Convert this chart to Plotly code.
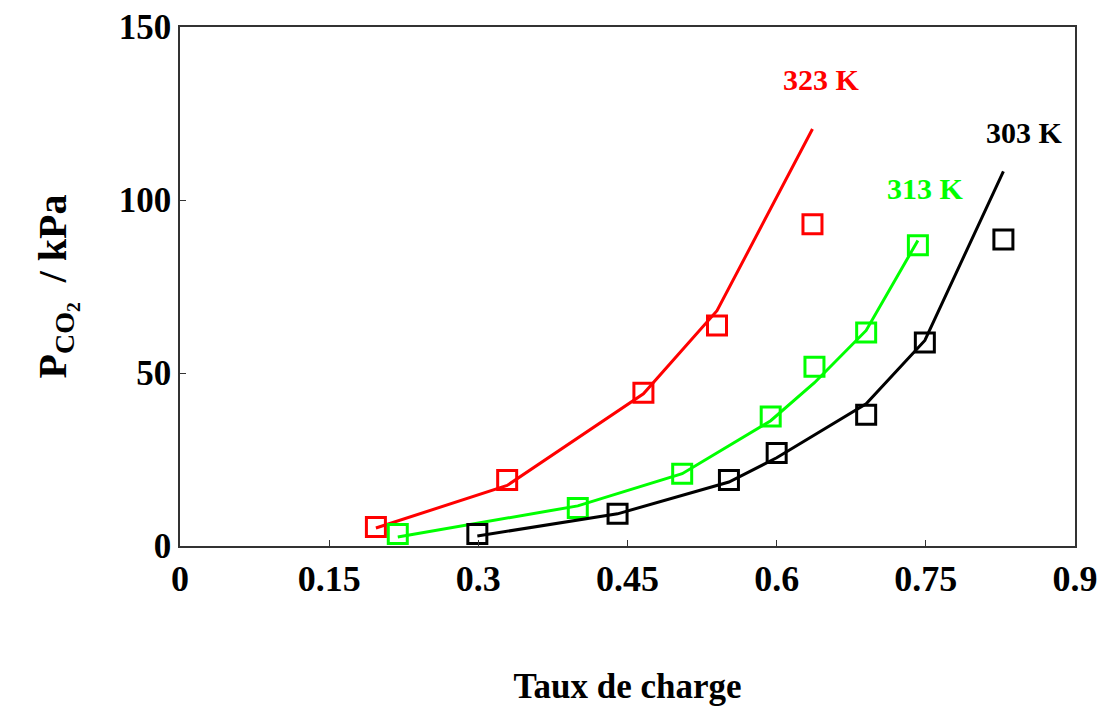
import plotly.graph_objects as go

# ---- data ----
loading_323 = [0.197, 0.329, 0.466, 0.540, 0.636]
p_exp_323 = [5.5, 19.1, 44.3, 63.7, 93.0]
p_model_323 = [5.2, 17.5, 44.0, 68.0, 120.5]

loading_313 = [0.219, 0.400, 0.505, 0.594, 0.638, 0.690, 0.742]
p_exp_313 = [3.5, 11.0, 20.9, 37.4, 51.8, 61.7, 86.9]
p_model_313 = [2.6, 11.6, 20.9, 36.2, 47.2, 62.3, 88.3]

loading_303 = [0.299, 0.440, 0.552, 0.600, 0.690, 0.749, 0.828]
p_exp_303 = [3.5, 9.3, 19.1, 26.9, 37.9, 58.8, 88.6]
p_model_303 = [2.9, 9.3, 18.5, 25.5, 41.1, 59.4, 108.3]

x_ticks = [0, 0.15, 0.3, 0.45, 0.6, 0.75, 0.9]
x_tick_labels = ["0", "0.15", "0.3", "0.45", "0.6", "0.75", "0.9"]
y_ticks = [0, 50, 100, 150]
y_tick_labels = ["0", "50", "100", "150"]

series_labels = ["323 K", "313 K", "303 K"]
series_colors = ["#ff0000", "#00ff00", "#000000"]
label_x = [0.645, 0.750, 0.849]
label_y = [134.7, 103.4, 119.6]

FONT = "Liberation Serif"

fig = go.Figure()
series = [
    (loading_323, p_exp_323, p_model_323),
    (loading_313, p_exp_313, p_model_313),
    (loading_303, p_exp_303, p_model_303),
]
for (lx, pe, pm), name, col in zip(series, series_labels, series_colors):
    fig.add_trace(go.Scatter(
        x=lx, y=pm, mode="lines", name=name + " model",
        line=dict(color=col, width=3), showlegend=False,
    ))
    fig.add_trace(go.Scatter(
        x=lx, y=pe, mode="markers", name=name,
        marker=dict(symbol="square-open", size=19, color=col,
                    line=dict(color=col, width=3)),
        showlegend=False,
    ))

for name, col, ax_, ay_ in zip(series_labels, series_colors, label_x, label_y):
    fig.add_annotation(
        x=ax_, y=ay_, text="<b>" + name + "</b>", showarrow=False,
        font=dict(family=FONT, size=30, color=col),
    )

fig.update_layout(
    width=1102, height=706,
    paper_bgcolor="white", plot_bgcolor="white",
    margin=dict(l=180, r=27, t=27, b=160),
    font=dict(family=FONT, color="black"),
)
fig.update_xaxes(
    range=[0, 0.9], tickvals=x_ticks, ticktext=["<b>%s</b>" % t for t in x_tick_labels],
    ticks="inside", ticklen=6, tickcolor="#333", showgrid=False, zeroline=False,
    showline=True, linecolor="#333", linewidth=1.5, mirror=True, automargin=False,
    tickfont=dict(family=FONT, size=36, color="black"),
    title=dict(text="<b>Taux de charge</b>", font=dict(family=FONT, size=35, color="black"),
               standoff=78),
)
fig.update_yaxes(
    range=[0, 150], tickvals=y_ticks, ticktext=["<b>%s</b>" % t for t in y_tick_labels],
    ticks="inside", ticklen=6, tickcolor="#333", showgrid=False, zeroline=False,
    showline=True, linecolor="#333", linewidth=1.5, mirror=True, automargin=False,
    tickfont=dict(family=FONT, size=35, color="black"),
    title=dict(text="<b>P<sub>CO<sub>2</sub></sub>  / kPa</b>",
               font=dict(family=FONT, size=40, color="black"), standoff=40),
)

fig.write_html("out.html")
